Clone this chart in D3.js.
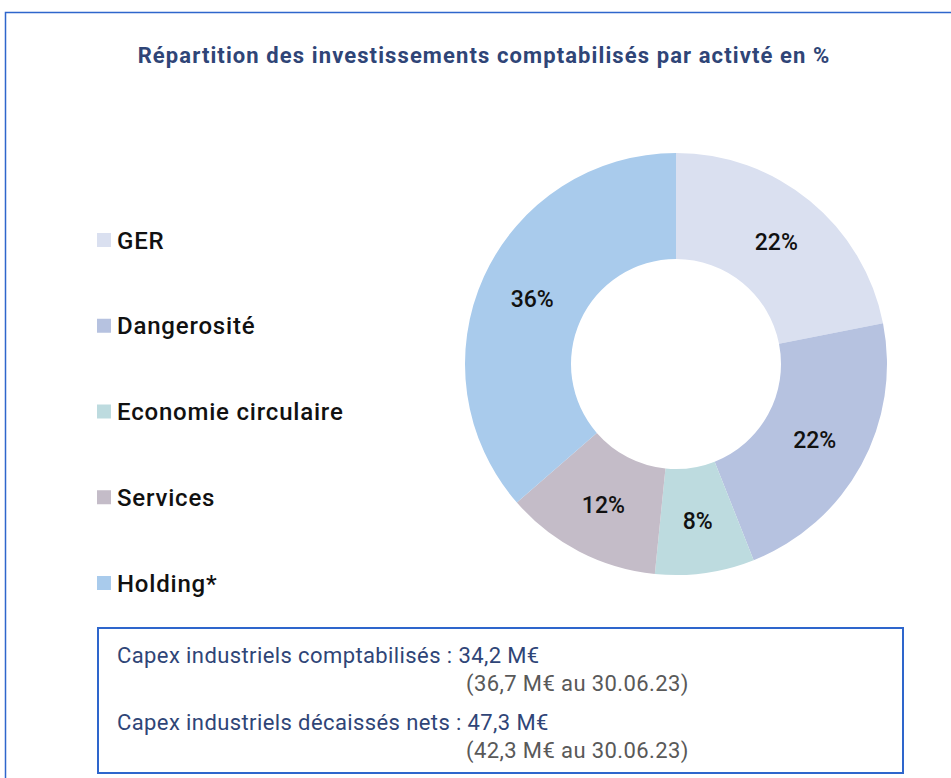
<!DOCTYPE html>
<html>
<head>
<meta charset="utf-8">
<script src="https://cdn.jsdelivr.net/npm/d3@7"></script>
<style>
  body { margin: 0; background: #ffffff; font-family: Roboto, "Noto Sans", sans-serif; }
  svg { display: block; }
</style>
</head>
<body>
<svg width="951" height="778"></svg>
<script>
// donnees
const categories = ["GER", "Dangerosité", "Economie circulaire", "Services", "Holding*"];
const values = [21.9, 22.1, 7.6, 12.0, 36.4];
const colors = ["#dae0f0", "#b6c2e0", "#bddbdf", "#c4bcc8", "#a9cbec"];

const title = "Répartition des investissements comptabilisés par activté en %";
const capexLines = ["Capex industriels comptabilisés : 34,2 M€", "Capex industriels décaissés nets : 47,3 M€"];
const capexPrevious = ["(36,7 M€ au 30.06.23)", "(42,3 M€ au 30.06.23)"];

const svg = d3.select("svg");
const navy = "#2f4577";
const blue = "#2e66cc";

// cadre exterieur (pas de bord droit / bas visibles)
svg.append("path")
  .attr("d", "M5.5,778 L5.5,12.5 L951,12.5")
  .attr("fill", "none")
  .attr("stroke", blue)
  .attr("stroke-width", 1.5);

svg.append("text")
  .attr("x", 484)
  .attr("y", 63)
  .attr("text-anchor", "middle")
  .style("font-size", "22px")
  .style("font-weight", 700)
  .style("letter-spacing", "1.1px")
  .style("fill", navy)
  .text(title);

const color = d3.scaleOrdinal().domain(categories).range(colors);

// donut
const cx = 676, cy = 364;
const outerR = 211, innerR = 105;
const pie = d3.pie().sort(null).value(d => d.value);
const arc = d3.arc().innerRadius(innerR).outerRadius(outerR);
const data = categories.map((c, i) => ({ category: c, value: values[i] }));
const fmt = v => d3.format(".0f")(v) + "%";

const chart = svg.append("g").attr("transform", `translate(${cx}, ${cy})`);
const slices = chart.selectAll(".slice")
  .data(pie(data))
  .enter()
  .append("g")
  .attr("class", "slice");

slices.append("path")
  .attr("d", arc)
  .attr("fill", d => color(d.data.category));

slices.append("text")
  .attr("transform", d => `translate(${arc.centroid(d)})`)
  .attr("text-anchor", "middle")
  .attr("dy", "0.36em")
  .style("font-size", "23px")
  .style("font-weight", 500)
  .style("fill", "#111")
  .text(d => fmt(d.data.value));

// legende
const legendY = d3.scalePoint().domain(categories).range([240, 583]);
const legend = svg.append("g")
  .selectAll("g")
  .data(categories)
  .enter()
  .append("g")
  .attr("transform", d => `translate(97, ${legendY(d)})`);

legend.append("rect")
  .attr("x", 0)
  .attr("y", -7)
  .attr("width", 14)
  .attr("height", 14)
  .attr("fill", d => color(d));

legend.append("text")
  .attr("x", 20)
  .attr("dy", "0.36em")
  .style("font-size", "24px")
  .style("font-weight", 500)
  .style("letter-spacing", "0.8px")
  .style("fill", "#111")
  .text(d => d);

// encadre capex
svg.append("rect")
  .attr("x", 98)
  .attr("y", 628)
  .attr("width", 805)
  .attr("height", 145)
  .attr("fill", "none")
  .attr("stroke", blue)
  .attr("stroke-width", 2);

const rows = [655, 722];
capexLines.forEach((t, i) => {
  svg.append("text")
    .attr("x", 117)
    .attr("y", rows[i])
    .attr("dy", "0.36em")
    .style("font-size", "22px")
    .style("letter-spacing", "0.4px")
    .style("fill", navy)
    .text(t);
  svg.append("text")
    .attr("x", 466)
    .attr("y", rows[i] + 28)
    .attr("dy", "0.36em")
    .style("font-size", "22px")
    .style("letter-spacing", "0.4px")
    .style("fill", "#595959")
    .text(capexPrevious[i]);
});
</script>
</body>
</html>
